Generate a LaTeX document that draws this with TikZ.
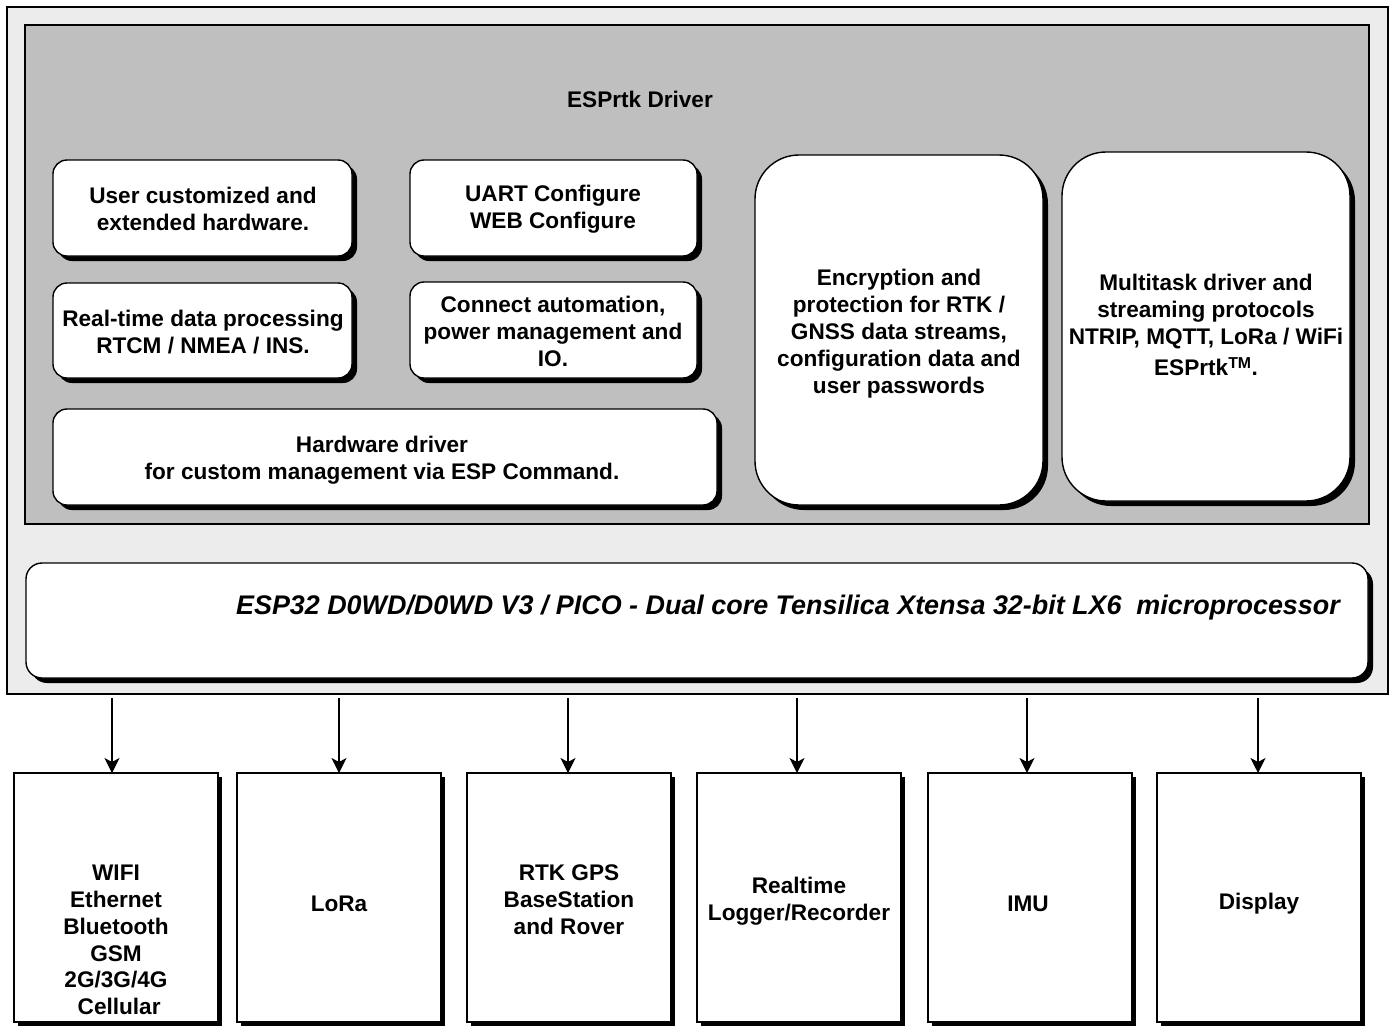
\documentclass[tikz,border=0pt]{standalone}
\usepackage{fontspec}
\setmainfont{Liberation Sans}
\usetikzlibrary{arrows.meta,shadows}
\begin{document}
\begin{tikzpicture}[x=1pt,y=-1pt,
  every node/.style={inner sep=0pt,outer sep=0pt,font=\fontsize{22.6}{27}\selectfont\bfseries,align=center},
  panel/.style={draw=black,line width=1.4pt,rectangle},
  rbox/.style={draw=black,line width=1.4pt,fill=white,rounded corners=14pt,
    drop shadow={shadow xshift=5pt,shadow yshift=-5pt,fill=black,opacity=1}},
  bigbox/.style={rbox,rounded corners=44pt},
  bbox/.style={draw=black,line width=1.4pt,fill=white,rectangle,minimum width=204pt,minimum height=249pt,
    drop shadow={shadow xshift=4pt,shadow yshift=-4pt,fill=black,opacity=1}},
  btext/.style={font=\fontsize{22.6}{26.8}\selectfont\bfseries},
  conn/.style={line width=1.4pt,-{Stealth[length=15pt,width=15pt,inset=4pt]}}
]
\useasboundingbox (0,0) rectangle (1393,1026);
\fill[white] (0,0) rectangle (1393,1026);
% panels
\node[panel,fill=black!7.5,minimum width=1381pt,minimum height=687pt] (outer) at (697.5,350.5) {};
\node[panel,fill=black!25,minimum width=1344pt,minimum height=499pt] (inner) at (697,274.5) {};
\node (title) at (640,99) {ESPrtk Driver};
% driver boxes
\node[rbox,minimum width=299pt,minimum height=96pt] (u1) at (202.5,208) {};
\node (u1t) at (203,209) {User customized and\\extended hardware.};
\node[rbox,minimum width=287pt,minimum height=96pt] (u2) at (553.5,208) {};
\node (u2t) at (553,209) {UART Configure\\WEB Configure};
\node[rbox,minimum width=299pt,minimum height=95pt] (u3) at (202.5,330.5) {};
\node (u3t) at (203,332) {Real-time data processing\\RTCM / NMEA / INS.};
\node[rbox,minimum width=287pt,minimum height=96pt] (u4) at (553.5,330) {};
\node (u4t) at (553,331) {Connect automation,\\power management and\\IO.};
\node[rbox,minimum width=664pt,minimum height=96pt] (u5) at (385,457) {};
\node (u5t) at (382,460) {Hardware driver\\for custom management via ESP Command.};
\node[bigbox,minimum width=288pt,minimum height=350pt] (enc) at (899,330) {};
\node (enct) at (899,334) {Encryption and\\protection for RTK /\\GNSS data streams,\\configuration data and\\user passwords};
\node[bigbox,minimum width=288pt,minimum height=349pt] (mt) at (1206,326.5) {};
\node (mtt) at (1206,325) {Multitask driver and\\streaming protocols\\NTRIP, MQTT, LoRa / WiFi\\[4pt]ESPrtk\textsuperscript{TM}.};
% processor
\node[rbox,rounded corners=16pt,minimum width=1342pt,minimum height=115pt] (esp) at (697,620.5) {};
\node[font=\fontsize{26.9}{30}\selectfont\bfseries\itshape] (esptext) at (788,608) {ESP32 D0WD/D0WD V3 / PICO - Dual core Tensilica Xtensa 32-bit LX6\ \ microprocessor};
% peripheral boxes
\node[bbox] (b1) at (116,897.5) {};
\node[bbox] (b2) at (339,897.5) {};
\node[bbox] (b3) at (569,897.5) {};
\node[bbox] (b4) at (799,897.5) {};
\node[bbox] (b5) at (1030,897.5) {};
\node[bbox] (b6) at (1259,897.5) {};
\node[btext] (t1) at (116,940) {WIFI\\Ethernet\\Bluetooth\\GSM\\2G/3G/4G\\\ Cellular};
\node (t2) at (339,904) {LoRa};
\node[btext] (t3) at (569,900) {RTK GPS\\BaseStation\\and Rover};
\node[btext] (t4) at (799,901) {Realtime\\Logger/Recorder};
\node (t5) at (1028,904) {IMU};
\node (t6) at (1259,904) {Display};
% connectors
\coordinate (a1) at (112,698);
\coordinate (a2) at (339,698);
\coordinate (a3) at (568,698);
\coordinate (a4) at (797,698);
\coordinate (a5) at (1027,698);
\coordinate (a6) at (1258,698);
\draw[conn] (a1) -- (a1 |- b1.north);
\draw[conn] (a2) -- (a2 |- b2.north);
\draw[conn] (a3) -- (a3 |- b3.north);
\draw[conn] (a4) -- (a4 |- b4.north);
\draw[conn] (a5) -- (a5 |- b5.north);
\draw[conn] (a6) -- (a6 |- b6.north);
\end{tikzpicture}
\end{document}
